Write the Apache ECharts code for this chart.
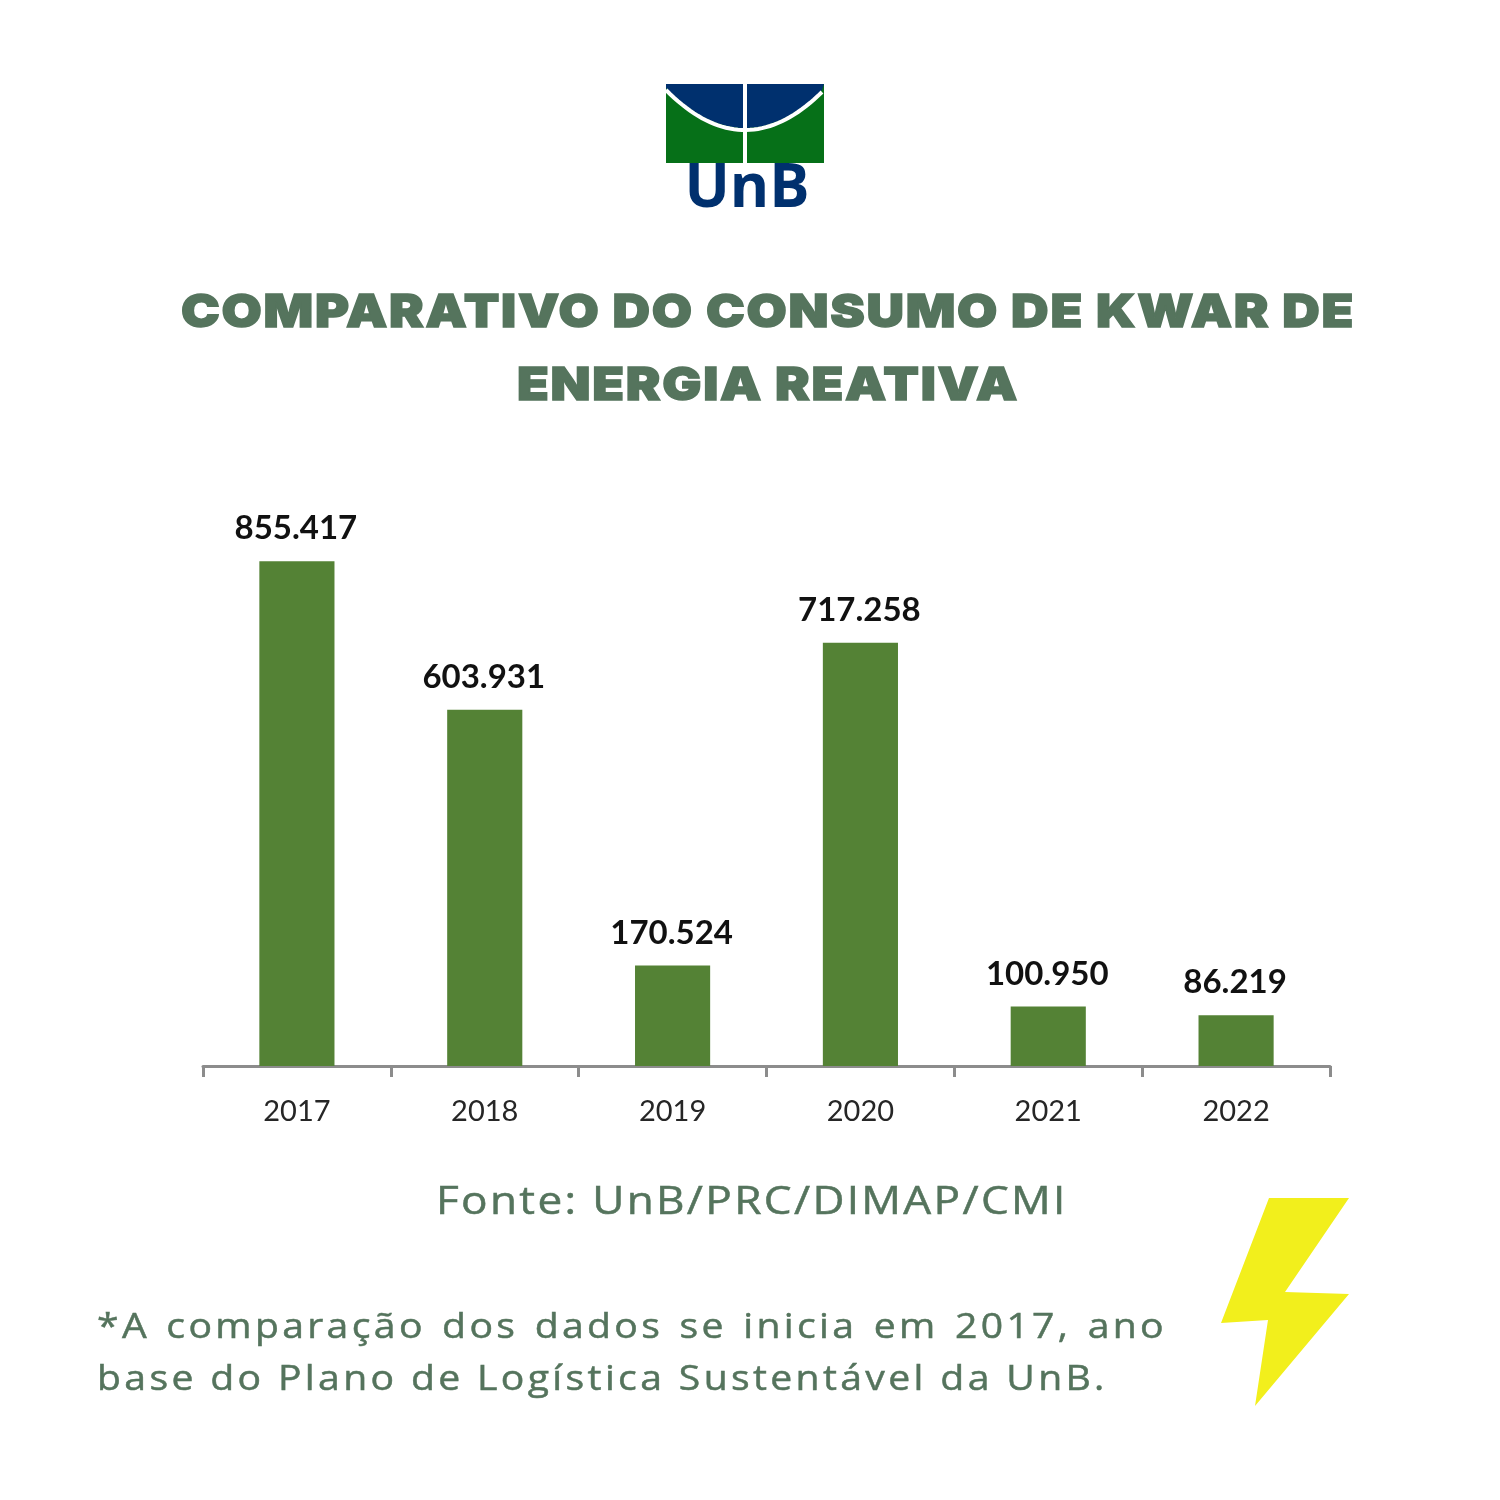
<!DOCTYPE html>
<html>
<head>
<meta charset="utf-8">
<script src="https://cdn.jsdelivr.net/npm/echarts@6/dist/echarts.min.js"></script>
<style>
  html, body { margin: 0; padding: 0; background: #fff; }
  #main { position: absolute; left: 0; top: 0; width: 1500px; height: 1500px; }
  .txt { position: absolute; margin: 0; color: #55745d; white-space: nowrap; }
  #title1, #title2 { font-family: Inter; font-weight: 900; font-size: 46px; line-height: 56px; letter-spacing: 1.5px; text-align: center; left: 18px; width: 1500px; transform: scaleX(1.13); -webkit-text-stroke: 1.4px #55745d; }
  #title1 { top: 282px; }
  #title2 { top: 355px; }
  #source { font-family: "Open Sans"; font-weight: 500; font-size: 38px; line-height: 46px; letter-spacing: 2px; left: 436px; top: 1176px; transform: scaleX(1.161); transform-origin: left; -webkit-text-stroke: 0.5px #55745d; }
  .note { font-family: "Open Sans"; font-weight: 500; font-size: 35px; line-height: 44px; letter-spacing: 3px; left: 97px; transform: scaleX(1.118); transform-origin: left; -webkit-text-stroke: 0.5px #55745d; }
  #note1 { top: 1303px; word-spacing: 2.5px; }
  #note2 { top: 1355px; }
</style>
</head>
<body>
<div id="main"></div>
<h1 class="txt" id="title1">COMPARATIVO DO CONSUMO DE KWAR DE</h1>
<h1 class="txt" id="title2">ENERGIA REATIVA</h1>
<p class="txt" id="source">Fonte: UnB/PRC/DIMAP/CMI</p>
<p class="txt note" id="note1">*A comparação dos dados se inicia em 2017, ano</p>
<p class="txt note" id="note2">base do Plano de Logística Sustentável da UnB.</p>
<script>
var years = ['2017', '2018', '2019', '2020', '2021', '2022'];
var consumo = [855417, 603931, 170524, 717258, 100950, 86219];

function fmtValue(v) {
  return String(v).replace(/\B(?=(\d{3})+$)/g, '.');
}

// bottom edge of the blue part of the logo, a shallow arc
function logoArc(drop) {
  var pts = [];
  for (var x = 666; x <= 824; x += 4) {
    var t = (x - 745) / 79;
    pts.push([x, 88 + drop + 40 * (1 - t * t)]);
  }
  return pts;
}

var myChart = echarts.init(document.getElementById('main'));
myChart.setOption({
  animation: false,
  grid: { left: 203, right: 170, top: 535, bottom: 434 },
  xAxis: {
    type: 'category',
    data: years,
    axisLine: { lineStyle: { color: '#8c8c8c', width: 3 } },
    axisTick: { show: true, alignWithLabel: false, length: 11, lineStyle: { color: '#8c8c8c', width: 3 } },
    axisLabel: { color: '#262626', fontFamily: 'Lato', fontSize: 29, margin: 31 }
  },
  yAxis: { type: 'value', min: 0, max: 900000, show: false },
  series: [{
    type: 'bar',
    data: consumo,
    barWidth: '40%',
    itemStyle: { color: '#548235' },
    label: {
      show: true,
      position: 'top',
      distance: 16,
      offset: [-1, 0],
      color: '#111',
      fontFamily: 'Lato',
      fontWeight: 'bold',
      fontSize: 33,
      formatter: function (p) { return fmtValue(p.value); }
    }
  }],
  graphic: [
    // logo UnB
    { type: 'rect', shape: { x: 666, y: 84, width: 158, height: 79 }, style: { fill: '#067018' } },
    { type: 'polygon', shape: { points: [[666, 84]].concat(logoArc(0), [[824, 84]]) }, style: { fill: '#00306e' } },
    { type: 'polyline', shape: { points: logoArc(2) }, style: { fill: null, stroke: '#fff', lineWidth: 4 } },
    { type: 'rect', shape: { x: 743, y: 84, width: 4, height: 79 }, style: { fill: '#fff' } },
    { type: 'text', x: 747, y: 190, style: { text: 'UnB', fill: '#00306e', font: 'bold 60px "Open Sans"', textAlign: 'center', textVerticalAlign: 'middle' } },
    // raio
    { type: 'polygon', shape: { points: [[1269, 1198], [1349, 1198], [1285, 1292], [1349, 1294], [1255, 1406], [1268, 1320], [1221, 1323]] }, style: { fill: '#f2ef1c' } }
  ]
});
</script>
</body>
</html>
